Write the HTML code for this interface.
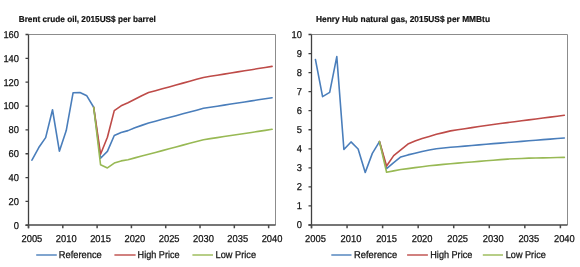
<!DOCTYPE html>
<html><head><meta charset="utf-8"><style>
html,body{margin:0;padding:0;background:#fff;}
svg{display:block;will-change:transform;}
.t{font-family:"Liberation Sans",sans-serif;font-size:10px;fill:#111111;stroke:#111111;stroke-width:0.25px;text-rendering:geometricPrecision;}
.h{font-family:"Liberation Sans",sans-serif;font-size:8.6px;font-weight:bold;fill:#111111;stroke:#111111;stroke-width:0.2px;text-rendering:geometricPrecision;}
</style></head><body>
<svg width="580" height="267" viewBox="0 0 580 267">
<rect width="580" height="267" fill="#fff"/>
<path d="M28.5 34.5H275.5V225.3" fill="none" stroke="#8c8c8c" stroke-width="1"/>
<path d="M28.5 34.5V228.3M25.5 225.30H28.5M25.5 201.45H28.5M25.5 177.60H28.5M25.5 153.75H28.5M25.5 129.90H28.5M25.5 106.05H28.5M25.5 82.20H28.5M25.5 58.35H28.5M25.5 34.50H28.5" fill="none" stroke="#404040" stroke-width="1.3"/>
<path d="M25.5 225H275.5M28.50 225V228.3M62.81 225V228.3M97.11 225V228.3M131.42 225V228.3M165.72 225V228.3M200.03 225V228.3M234.33 225V228.3M268.64 225V228.3" fill="none" stroke="#4a4a4a" stroke-width="1.5"/>
<text x="19" y="228.60" text-anchor="end" class="t" textLength="5.20" lengthAdjust="spacingAndGlyphs">0</text>
<text x="19" y="204.75" text-anchor="end" class="t" textLength="10.40" lengthAdjust="spacingAndGlyphs">20</text>
<text x="19" y="180.90" text-anchor="end" class="t" textLength="10.40" lengthAdjust="spacingAndGlyphs">40</text>
<text x="19" y="157.05" text-anchor="end" class="t" textLength="10.40" lengthAdjust="spacingAndGlyphs">60</text>
<text x="19" y="133.20" text-anchor="end" class="t" textLength="10.40" lengthAdjust="spacingAndGlyphs">80</text>
<text x="19" y="109.35" text-anchor="end" class="t" textLength="15.60" lengthAdjust="spacingAndGlyphs">100</text>
<text x="19" y="85.50" text-anchor="end" class="t" textLength="15.60" lengthAdjust="spacingAndGlyphs">120</text>
<text x="19" y="61.65" text-anchor="end" class="t" textLength="15.60" lengthAdjust="spacingAndGlyphs">140</text>
<text x="19" y="37.80" text-anchor="end" class="t" textLength="15.60" lengthAdjust="spacingAndGlyphs">160</text>
<text x="31.93" y="241.8" text-anchor="middle" class="t" textLength="20.80" lengthAdjust="spacingAndGlyphs">2005</text>
<text x="66.24" y="241.8" text-anchor="middle" class="t" textLength="20.80" lengthAdjust="spacingAndGlyphs">2010</text>
<text x="100.54" y="241.8" text-anchor="middle" class="t" textLength="20.80" lengthAdjust="spacingAndGlyphs">2015</text>
<text x="134.85" y="241.8" text-anchor="middle" class="t" textLength="20.80" lengthAdjust="spacingAndGlyphs">2020</text>
<text x="169.15" y="241.8" text-anchor="middle" class="t" textLength="20.80" lengthAdjust="spacingAndGlyphs">2025</text>
<text x="203.46" y="241.8" text-anchor="middle" class="t" textLength="20.80" lengthAdjust="spacingAndGlyphs">2030</text>
<text x="237.76" y="241.8" text-anchor="middle" class="t" textLength="20.80" lengthAdjust="spacingAndGlyphs">2035</text>
<text x="272.07" y="241.8" text-anchor="middle" class="t" textLength="20.80" lengthAdjust="spacingAndGlyphs">2040</text>
<polyline points="31.93,160.19 38.79,147.55 45.65,137.65 52.51,109.75 59.38,151.13 66.24,130.62 73.10,92.69 79.96,92.46 86.82,95.79 93.68,107.24 100.54,158.28 107.40,151.37 114.26,135.50 121.12,132.40 127.99,130.62 134.85,127.75 141.71,125.37 148.57,122.98 155.43,121.15 162.29,119.32 169.15,117.48 176.01,115.65 182.88,113.82 189.74,111.98 196.60,110.15 203.46,108.32 210.32,107.25 217.18,106.19 224.04,105.13 230.90,104.07 237.76,103.01 244.62,101.95 251.49,100.89 258.35,99.83 265.21,98.76 272.07,97.70" fill="none" stroke="#4a7ebb" stroke-width="1.6" stroke-linejoin="round" stroke-linecap="round"/>
<polyline points="93.68,107.24 100.54,154.23 107.40,137.29 114.26,110.58 121.12,105.81 127.99,102.83 134.85,99.25 141.71,95.79 148.57,92.57 155.43,90.68 162.29,88.79 169.15,86.90 176.01,85.00 182.88,83.11 189.74,81.22 196.60,79.32 203.46,77.43 210.32,76.32 217.18,75.21 224.04,74.10 230.90,72.99 237.76,71.88 244.62,70.78 251.49,69.67 258.35,68.56 265.21,67.45 272.07,66.34" fill="none" stroke="#be4b48" stroke-width="1.6" stroke-linejoin="round" stroke-linecap="round"/>
<polyline points="93.68,107.24 100.54,164.72 107.40,167.94 114.26,163.05 121.12,160.91 127.99,159.71 134.85,157.89 141.71,156.07 148.57,154.25 155.43,152.43 162.29,150.61 169.15,148.78 176.01,146.96 182.88,145.14 189.74,143.32 196.60,141.50 203.46,139.68 210.32,138.64 217.18,137.60 224.04,136.57 230.90,135.53 237.76,134.49 244.62,133.45 251.49,132.42 258.35,131.38 265.21,130.34 272.07,129.30" fill="none" stroke="#98b954" stroke-width="1.6" stroke-linejoin="round" stroke-linecap="round"/>
<text x="18.7" y="22" class="h" textLength="137.2" lengthAdjust="spacingAndGlyphs">Brent crude oil, 2015US$ per barrel</text>
<path d="M36.2 255H56.8" stroke="#4a7ebb" stroke-width="1.4"/>
<text x="58.8" y="258" class="t" textLength="43" lengthAdjust="spacingAndGlyphs">Reference</text>
<path d="M114.4 255H135.6" stroke="#be4b48" stroke-width="1.4"/>
<text x="137.6" y="258" class="t" textLength="42" lengthAdjust="spacingAndGlyphs">High Price</text>
<path d="M192.4 255H213" stroke="#98b954" stroke-width="1.4"/>
<text x="215.6" y="258" class="t" textLength="40.4" lengthAdjust="spacingAndGlyphs">Low Price</text>
<path d="M311.5 34.5H567.5V225.0" fill="none" stroke="#8c8c8c" stroke-width="1"/>
<path d="M311.5 34.5V228.3M308.5 225.00H311.5M308.5 205.95H311.5M308.5 186.90H311.5M308.5 167.85H311.5M308.5 148.80H311.5M308.5 129.75H311.5M308.5 110.70H311.5M308.5 91.65H311.5M308.5 72.60H311.5M308.5 53.55H311.5M308.5 34.50H311.5" fill="none" stroke="#404040" stroke-width="1.3"/>
<path d="M308.5 225H567.5M311.50 225V228.3M347.06 225V228.3M382.61 225V228.3M418.17 225V228.3M453.72 225V228.3M489.28 225V228.3M524.83 225V228.3M560.39 225V228.3" fill="none" stroke="#4a4a4a" stroke-width="1.5"/>
<text x="302" y="228.30" text-anchor="end" class="t" textLength="5.20" lengthAdjust="spacingAndGlyphs">0</text>
<text x="302" y="209.25" text-anchor="end" class="t" textLength="5.20" lengthAdjust="spacingAndGlyphs">1</text>
<text x="302" y="190.20" text-anchor="end" class="t" textLength="5.20" lengthAdjust="spacingAndGlyphs">2</text>
<text x="302" y="171.15" text-anchor="end" class="t" textLength="5.20" lengthAdjust="spacingAndGlyphs">3</text>
<text x="302" y="152.10" text-anchor="end" class="t" textLength="5.20" lengthAdjust="spacingAndGlyphs">4</text>
<text x="302" y="133.05" text-anchor="end" class="t" textLength="5.20" lengthAdjust="spacingAndGlyphs">5</text>
<text x="302" y="114.00" text-anchor="end" class="t" textLength="5.20" lengthAdjust="spacingAndGlyphs">6</text>
<text x="302" y="94.95" text-anchor="end" class="t" textLength="5.20" lengthAdjust="spacingAndGlyphs">7</text>
<text x="302" y="75.90" text-anchor="end" class="t" textLength="5.20" lengthAdjust="spacingAndGlyphs">8</text>
<text x="302" y="56.85" text-anchor="end" class="t" textLength="5.20" lengthAdjust="spacingAndGlyphs">9</text>
<text x="302" y="37.80" text-anchor="end" class="t" textLength="10.40" lengthAdjust="spacingAndGlyphs">10</text>
<text x="315.46" y="241.8" text-anchor="middle" class="t" textLength="20.80" lengthAdjust="spacingAndGlyphs">2005</text>
<text x="351.01" y="241.8" text-anchor="middle" class="t" textLength="20.80" lengthAdjust="spacingAndGlyphs">2010</text>
<text x="386.57" y="241.8" text-anchor="middle" class="t" textLength="20.80" lengthAdjust="spacingAndGlyphs">2015</text>
<text x="422.12" y="241.8" text-anchor="middle" class="t" textLength="20.80" lengthAdjust="spacingAndGlyphs">2020</text>
<text x="457.68" y="241.8" text-anchor="middle" class="t" textLength="20.80" lengthAdjust="spacingAndGlyphs">2025</text>
<text x="493.23" y="241.8" text-anchor="middle" class="t" textLength="20.80" lengthAdjust="spacingAndGlyphs">2030</text>
<text x="528.79" y="241.8" text-anchor="middle" class="t" textLength="20.80" lengthAdjust="spacingAndGlyphs">2035</text>
<text x="564.34" y="241.8" text-anchor="middle" class="t" textLength="20.80" lengthAdjust="spacingAndGlyphs">2040</text>
<polyline points="315.46,59.65 322.57,96.60 329.68,92.41 336.79,56.60 343.90,149.56 351.01,141.94 358.12,148.99 365.23,172.42 372.34,153.37 379.46,141.56 386.57,168.61 393.68,162.52 400.79,156.99 407.90,154.90 415.01,153.18 422.12,151.47 429.23,149.94 436.34,148.80 443.46,148.04 450.57,147.28 457.68,146.70 464.79,146.09 471.90,145.49 479.01,144.88 486.12,144.27 493.23,143.66 500.34,143.09 507.46,142.51 514.57,141.94 521.68,141.37 528.79,140.80 535.90,140.23 543.01,139.66 550.12,139.08 557.23,138.51 564.34,137.94" fill="none" stroke="#4a7ebb" stroke-width="1.6" stroke-linejoin="round" stroke-linecap="round"/>
<polyline points="379.46,141.56 386.57,165.94 393.68,155.66 400.79,149.85 407.90,144.04 415.01,140.99 422.12,138.51 429.23,136.42 436.34,134.32 443.46,132.61 450.57,130.89 457.68,129.75 464.79,128.68 471.90,127.62 479.01,126.55 486.12,125.48 493.23,124.42 500.34,123.50 507.46,122.59 514.57,121.67 521.68,120.76 528.79,119.84 535.90,118.93 543.01,118.02 550.12,117.10 557.23,116.19 564.34,115.27" fill="none" stroke="#be4b48" stroke-width="1.6" stroke-linejoin="round" stroke-linecap="round"/>
<polyline points="379.46,141.56 386.57,172.23 393.68,170.90 400.79,169.56 407.90,168.61 415.01,167.66 422.12,166.71 429.23,165.75 436.34,165.09 443.46,164.42 450.57,163.75 457.68,163.09 464.79,162.52 471.90,161.94 479.01,161.37 486.12,160.80 493.23,160.23 500.34,159.66 507.46,159.09 514.57,158.77 521.68,158.45 528.79,158.13 535.90,157.98 543.01,157.83 550.12,157.68 557.23,157.52 564.34,157.37" fill="none" stroke="#98b954" stroke-width="1.6" stroke-linejoin="round" stroke-linecap="round"/>
<text x="316" y="22" class="h" textLength="174" lengthAdjust="spacingAndGlyphs">Henry Hub natural gas, 2015US$ per MMBtu</text>
<path d="M331.3 255H351.5" stroke="#4a7ebb" stroke-width="1.4"/>
<text x="354.1" y="258" class="t" textLength="43" lengthAdjust="spacingAndGlyphs">Reference</text>
<path d="M407.1 255H427.9" stroke="#be4b48" stroke-width="1.4"/>
<text x="430.3" y="258" class="t" textLength="42" lengthAdjust="spacingAndGlyphs">High Price</text>
<path d="M482.8 255H503" stroke="#98b954" stroke-width="1.4"/>
<text x="505.8" y="258" class="t" textLength="40" lengthAdjust="spacingAndGlyphs">Low Price</text>
</svg>
</body></html>
